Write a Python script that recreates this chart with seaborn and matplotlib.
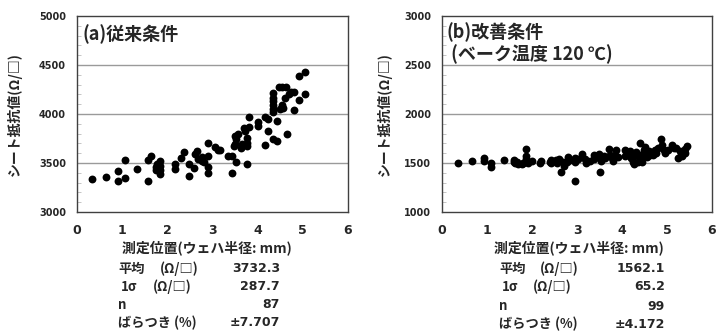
import numpy as np
import pandas as pd
import matplotlib
matplotlib.use("Agg")
import matplotlib.pyplot as plt
from matplotlib.ticker import MultipleLocator
import seaborn as sns

# ---------------- data ----------------
a_x = [0.34, 0.64, 0.90, 0.90, 1.07, 1.07, 1.32, 1.58, 1.64, 1.58, 1.76, 1.83, 1.83, 1.83, 1.84, 1.74,
       2.17, 2.17, 2.31, 2.37, 2.48, 2.48, 2.61, 2.65, 2.60, 2.69, 2.77, 2.77, 2.91, 2.90, 2.90, 2.90,
       3.05, 3.13, 3.16, 3.34, 3.44, 3.44, 3.47, 3.49, 3.52, 3.51, 3.50, 3.56, 3.65, 3.70, 3.73, 3.76,
       3.76, 3.76, 3.76, 3.81, 3.81, 4.01, 4.01, 4.17, 4.23, 4.17, 4.23, 4.33, 4.33, 4.35, 4.35, 4.35,
       4.35, 4.35, 4.42, 4.43, 4.47, 4.54, 4.54, 4.50, 4.62, 4.60, 4.66, 4.69, 4.73, 4.80, 4.80, 4.91,
       4.91, 5.04, 5.04, 3.64, 4.57, 1.78, 2.81]
a_y = [3333, 3357, 3422, 3320, 3531, 3350, 3439, 3534, 3571, 3313, 3459, 3517, 3469, 3432, 3388, 3425,
       3486, 3442, 3554, 3609, 3486, 3367, 3588, 3626, 3449, 3537, 3561, 3517, 3701, 3575, 3459, 3401,
       3660, 3629, 3635, 3575, 3575, 3401, 3673, 3776, 3745, 3510, 3697, 3793, 3697, 3857, 3830, 3755,
       3704, 3670, 3486, 3864, 3969, 3918, 3874, 3969, 3946, 3680, 3830, 4054, 4020, 4214, 4167, 4129,
       4095, 3745, 3721, 3929, 4279, 4279, 4095, 4051, 4275, 4163, 3793, 4201, 4224, 4037, 4224, 4146,
       4384, 4429, 4207, 3650, 4058, 3493, 3507]

b_x = [0.35, 0.66, 0.93, 0.93, 1.09, 1.09, 1.37, 1.61, 1.62, 1.68, 1.78, 1.81, 1.86, 1.86, 1.86, 1.86,
       2.01, 2.21, 2.39, 2.43, 2.53, 2.61, 2.65, 2.69, 2.71, 2.79, 2.85, 2.96, 2.96, 2.95, 3.10, 3.17,
       3.20, 3.37, 3.49, 3.49, 3.52, 3.53, 3.59, 3.72, 3.74, 3.77, 3.80, 3.85, 3.86, 4.07, 4.07, 4.18,
       4.20, 4.24, 4.27, 4.35, 4.39, 4.39, 4.41, 4.44, 4.48, 4.50, 4.52, 4.55, 4.60, 4.63, 4.69, 4.75,
       4.80, 4.86, 4.89, 4.94, 4.96, 5.10, 5.15, 5.24, 5.28, 5.32, 5.41, 5.45, 5.39, 4.26, 4.30, 3.28,
       2.77, 2.55, 2.18, 1.66, 1.59, 4.73, 5.03, 5.19, 5.36, 4.51, 3.62, 3.37, 3.02, 2.43, 1.91, 5.34,
       4.11, 4.55, 3.90]
b_y = [1497, 1520, 1554, 1520, 1500, 1456, 1534, 1531, 1497, 1490, 1486, 1500, 1646, 1575, 1541, 1510,
       1520, 1520, 1514, 1500, 1531, 1541, 1412, 1507, 1473, 1561, 1534, 1554, 1514, 1320, 1588, 1541,
       1500, 1585, 1595, 1558, 1408, 1520, 1568, 1646, 1585, 1554, 1517, 1585, 1629, 1629, 1568, 1619,
       1548, 1514, 1486, 1507, 1704, 1585, 1548, 1507, 1629, 1575, 1660, 1561, 1622, 1585, 1582, 1602,
       1653, 1745, 1680, 1636, 1602, 1680, 1650, 1551, 1619, 1585, 1646, 1670, 1602, 1568, 1609, 1520,
       1514, 1500, 1500, 1514, 1510, 1629, 1636, 1653, 1619, 1609, 1551, 1541, 1541, 1527, 1500, 1568,
       1595, 1602, 1560]

x_ticks = [0, 1, 2, 3, 4, 5, 6]
a_yticks = [3000, 3500, 4000, 4500, 5000]
b_yticks = [1000, 1500, 2000, 2500, 3000]

a_title = ["(a)従来条件"]
b_title = ["(b)改善条件", " (ベーク温度 120 ℃)"]
x_label = "測定位置(ウェハ半径: mm)"
y_label = "シート抵抗値(Ω/□)"

stat_labels = ["平均", "1σ", "n", "ばらつき (%)"]
stat_units = ["(Ω/□)", "(Ω/□)", "", ""]
a_stats = ["3732.3", "287.7", "87", "±7.707"]
b_stats = ["1562.1", "65.2", "99", "±4.172"]

# ---------------- style ----------------
sns.set_style("white")
plt.rcParams['font.family'] = ['Noto Sans CJK JP', 'DejaVu Sans']
plt.rcParams['font.weight'] = 'bold'

W, H = 723, 335
fig = plt.figure(figsize=(W / 100, H / 100), dpi=100)

def px_ax(l, t, r, b):
    return fig.add_axes([l / W, 1 - b / H, (r - l) / W, (b - t) / H])

ax_a = px_ax(77, 16, 348, 212)
ax_b = px_ax(442, 16, 712, 212)

def style(ax, yticks, ylab_x):
    ax.set_xlim(0, 6)
    ax.set_ylim(yticks[0], yticks[-1])
    ax.set_xticks(x_ticks)
    ax.set_yticks(yticks)
    ax.yaxis.set_minor_locator(MultipleLocator(100))
    ax.tick_params(axis='y', which='minor', direction='in', length=3, color='#bbbbbb', left=True)
    ax.tick_params(axis='y', which='major', length=0, labelsize=7, pad=8)
    ax.tick_params(axis='x', which='major', length=0, labelsize=9, pad=9)
    for lab in ax.get_xticklabels() + ax.get_yticklabels():
        lab.set_fontweight('bold')
        lab.set_family(['DejaVu Sans'])
    for yv in yticks[1:-1]:
        ax.axhline(yv, color='#9a9a9a', lw=1.0, zorder=0)
    for s in ax.spines.values():
        s.set_color('#404040')
        s.set_linewidth(1.0)
    ax.set_xlabel("")
    ax.set_ylabel(y_label, fontsize=10, fontweight='bold')
    ax.yaxis.set_label_coords(ylab_x, 0.5)

df_a = pd.DataFrame({"x": a_x, "y": a_y})
df_b = pd.DataFrame({"x": b_x, "y": b_y})
sns.scatterplot(data=df_a, x="x", y="y", ax=ax_a, color="black", s=32, edgecolor="black", linewidth=0, zorder=3)
sns.scatterplot(data=df_b, x="x", y="y", ax=ax_b, color="black", s=32, edgecolor="black", linewidth=0, zorder=3)
style(ax_a, a_yticks, (22 - 77) / 271)
style(ax_b, b_yticks, (392 - 442) / 270)

def fx(p):
    return p / W
def fy(p):
    return 1 - p / H

fig.text(fx(82), fy(34), a_title[0], fontsize=13, fontweight='bold', va='center', ha='left')
fig.text(fx(447), fy(32), b_title[0], fontsize=13, fontweight='bold', va='center', ha='left')
fig.text(fx(447), fy(54), b_title[1], fontsize=13, fontweight='bold', va='center', ha='left')

# x labels
fig.text(fx(207), fy(248), x_label, fontsize=10, fontweight='bold', ha='center', va='center')
fig.text(fx(579), fy(248), x_label, fontsize=10, fontweight='bold', ha='center', va='center')

def table(x0, xu, xv, ys, vals):
    for i, (lab, unit, val, yy) in enumerate(zip(stat_labels, stat_units, vals, ys)):
        off = 3 if i == 1 else 0
        fig.text(fx(x0 + off), fy(yy), lab, fontsize=9.5, fontweight='bold', ha='left', va='center')
        if unit:
            fig.text(fx(xu[i]), fy(yy), unit, fontsize=9.5, fontweight='bold', ha='left', va='center')
        fig.text(fx(xv), fy(yy), val, fontsize=9, fontweight='bold', ha='right', va='center',
                 family=['DejaVu Sans'])

table(118, [160, 153], 280, [269, 287, 305, 323], a_stats)
table(499, [540, 533], 665, [269, 287, 306, 324], b_stats)

fig.savefig("out.png", dpi=100)
